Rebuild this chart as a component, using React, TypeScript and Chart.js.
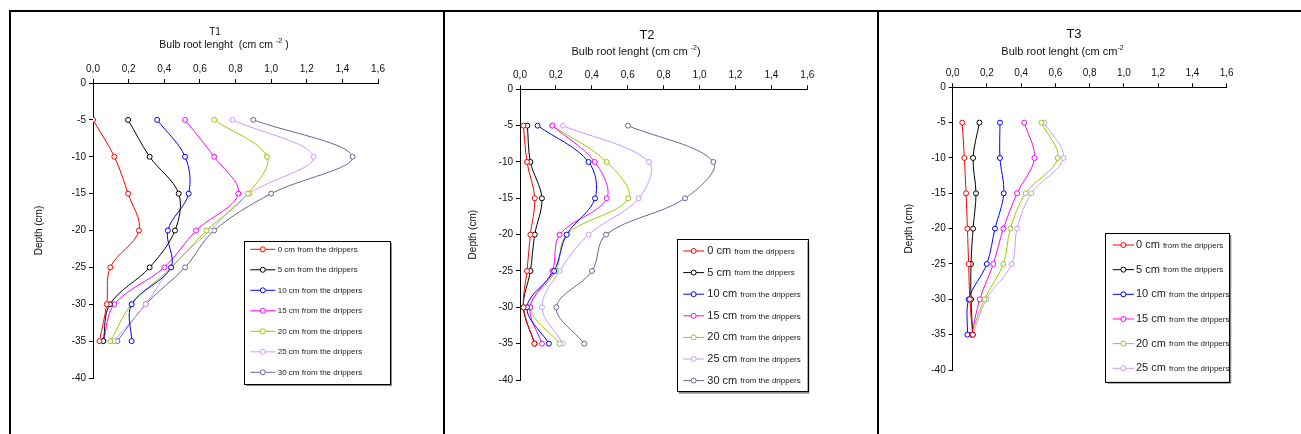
import React, { useEffect, useRef } from 'react';
import { Chart, registerables } from 'chart.js';

Chart.register(...registerables);

const FONT = '"Liberation Sans", Arial, Helvetica, sans-serif';

// ---- data ----
const depths = [-5, -10, -15, -20, -25, -30, -35];
const distances = ['0 cm', '5 cm', '10 cm', '15 cm', '20 cm', '25 cm', '30 cm'];
const legendSuffix = 'from the drippers';
const seriesColors = ['#FF0000', '#000000', '#0000FF', '#FF00FF', '#99CC00', '#CC99FF', '#666699'];
const xTickValues = [0, 0.2, 0.4, 0.6, 0.8, 1.0, 1.2, 1.4, 1.6];
const yTickValues = [0, -5, -10, -15, -20, -25, -30, -35, -40];

// T1
const t1_0 = [0.0, 0.12, 0.197, 0.258, 0.097, 0.077, 0.036];
const t1_5 = [0.197, 0.318, 0.481, 0.46, 0.318, 0.095, 0.058];
const t1_10 = [0.36, 0.517, 0.537, 0.42, 0.438, 0.217, 0.217];
const t1_15 = [0.517, 0.68, 0.816, 0.579, 0.4, 0.12, 0.058];
const t1_20 = [0.68, 0.977, 0.87, 0.637, 0.44, 0.217, 0.097];
const t1_25 = [0.783, 1.238, 0.878, 0.657, 0.44, 0.296, 0.116];
const t1_30 = [0.9, 1.457, 1.0, 0.68, 0.517, 0.296, 0.137];

// T2
const t2_0 = [0.019, 0.039, 0.082, 0.058, 0.039, 0.02, 0.08];
const t2_5 = [0.041, 0.058, 0.122, 0.082, 0.058, 0.019, 0.082];
const t2_10 = [0.098, 0.382, 0.418, 0.26, 0.19, 0.039, 0.161];
const t2_15 = [0.18, 0.416, 0.483, 0.221, 0.18, 0.056, 0.122];
const t2_20 = [0.18, 0.483, 0.603, 0.26, 0.2, 0.058, 0.221];
const t2_25 = [0.239, 0.718, 0.661, 0.382, 0.221, 0.122, 0.239];
const t2_30 = [0.601, 1.077, 0.919, 0.479, 0.401, 0.202, 0.358];

// T3
const t3_0 = [0.056, 0.068, 0.078, 0.086, 0.093, 0.1, 0.117];
const t3_5 = [0.156, 0.119, 0.136, 0.119, 0.107, 0.107, 0.117];
const t3_10 = [0.276, 0.276, 0.298, 0.247, 0.199, 0.093, 0.086];
const t3_15 = [0.418, 0.477, 0.376, 0.296, 0.237, 0.158, 0.111];
const t3_20 = [0.518, 0.613, 0.426, 0.337, 0.296, 0.185, 0.107];
const t3_25 = [0.535, 0.646, 0.459, 0.376, 0.345, 0.197, 0.117];

const panels = [
  {
    key: 'T1',
    series: [t1_0, t1_5, t1_10, t1_15, t1_20, t1_25, t1_30],
    canvas: { left: 11, top: 12, w: 432, h: 422 },
    area: { l: 82, t: 71, r: 367, b: 366 },
    yTitleX: 28,
    title: { text: 'T1', size: 10, x: 204, y: 20.3 },
    sub: { main: 'Bulb root lenght  (cm cm ', sup: '-2', end: ' )', size: 10.5, x: 213, y: 33.3 },
    legend: { x: 233, y: 229, w: 146, h: 143, first: 8.3, step: 20.5, l0: 6.3, l1: 31.3, tx: 33.7, big: 8, small: 8 },
  },
  {
    key: 'T2',
    series: [t2_0, t2_5, t2_10, t2_15, t2_20, t2_25, t2_30],
    canvas: { left: 445, top: 12, w: 432, h: 422 },
    area: { l: 75, t: 77.3, r: 362.3, b: 368 },
    yTitleX: 28.3,
    title: { text: 'T2', size: 13, x: 202, y: 23 },
    sub: { main: 'Bulb root lenght (cm cm ', sup: '-2', end: ')', size: 11, x: 191, y: 39.7 },
    legend: { x: 231.7, y: 227.3, w: 130.6, h: 152.4, first: 11.7, step: 21.6, l0: 6.6, l1: 27.3, tx: 30.6, big: 11, small: 8 },
  },
  {
    key: 'T3',
    series: [t3_0, t3_5, t3_10, t3_15, t3_20, t3_25],
    canvas: { left: 879, top: 12, w: 422, h: 422 },
    area: { l: 73.7, t: 75.3, r: 347.7, b: 358 },
    yTitleX: 30.3,
    title: { text: 'T3', size: 13, x: 195, y: 22.3 },
    sub: { main: 'Bulb root lenght (cm cm', sup: '-2', end: '', size: 11, x: 183.5, y: 39.7 },
    legend: { x: 226.3, y: 221, w: 124, h: 148.7, first: 12, step: 24.66, l0: 7.4, l1: 28.7, tx: 30.7, big: 11, small: 8 },
  },
];

const decorPlugin = {
  id: 'panelDecor',
  afterDraw(chart: any, _args: any, opts: any) {
    const ctx = chart.ctx as CanvasRenderingContext2D;
    ctx.save();
    ctx.fillStyle = '#111';
    ctx.textBaseline = 'middle';
    // chart title
    ctx.textAlign = 'center';
    ctx.font = `${opts.title.size}px ${FONT}`;
    ctx.fillText(opts.title.text, opts.title.x, opts.title.y);
    // axis title with superscript
    const s = opts.sub;
    const mainFont = `${s.size}px ${FONT}`;
    const supFont = `${Math.round(s.size * 0.65)}px ${FONT}`;
    ctx.font = mainFont;
    const w1 = ctx.measureText(s.main).width;
    const w3 = ctx.measureText(s.end).width;
    ctx.font = supFont;
    const w2 = ctx.measureText(s.sup).width;
    let x = s.x - (w1 + w2 + w3) / 2;
    ctx.textAlign = 'left';
    ctx.font = mainFont;
    ctx.fillText(s.main, x, s.y);
    x += w1;
    ctx.font = supFont;
    ctx.fillText(s.sup, x, s.y - 4);
    x += w2;
    ctx.font = mainFont;
    if (s.end) ctx.fillText(s.end, x, s.y);

    // legend
    const L = opts.legend;
    ctx.fillStyle = '#8a8a8a';
    ctx.fillRect(L.x + 2, L.y + 2, L.w, L.h);
    ctx.fillStyle = '#ffffff';
    ctx.fillRect(L.x, L.y, L.w, L.h);
    ctx.strokeStyle = '#000';
    ctx.lineWidth = 1;
    ctx.strokeRect(Math.round(L.x) + 0.5, Math.round(L.y) + 0.5, Math.round(L.w), Math.round(L.h));
    chart.data.datasets.forEach((ds: any, i: number) => {
      const y = L.y + L.first + i * L.step;
      ctx.strokeStyle = ds.borderColor;
      ctx.lineWidth = 1;
      ctx.beginPath();
      ctx.moveTo(L.x + L.l0, y);
      ctx.lineTo(L.x + L.l1, y);
      ctx.stroke();
      ctx.beginPath();
      ctx.arc(L.x + (L.l0 + L.l1) / 2, y, 2.5, 0, Math.PI * 2);
      ctx.fillStyle = '#fff';
      ctx.fill();
      ctx.stroke();
      ctx.fillStyle = '#222';
      ctx.textAlign = 'left';
      ctx.font = `${L.big}px ${FONT}`;
      const dist = distances[i] + ' ';
      ctx.fillText(dist, L.x + L.tx, y);
      const dw = ctx.measureText(dist).width;
      ctx.font = `${L.small}px ${FONT}`;
      ctx.fillText(legendSuffix, L.x + L.tx + dw, y + (L.big > L.small ? 0.5 : 0));
    });
    ctx.restore();
  },
};

function Panel({ p }: { p: any }) {
  const ref = useRef<HTMLCanvasElement | null>(null);
  useEffect(() => {
    if (!ref.current) return;
    const padLeft = p.yTitleX - 6;
    const chart = new Chart(ref.current, {
      type: 'line',
      data: {
        datasets: p.series.map((vals: number[], i: number) => ({
          label: `${distances[i]} ${legendSuffix}`,
          data: vals.map((v, j) => ({ x: v, y: depths[j] })),
          borderColor: seriesColors[i],
          backgroundColor: '#ffffff',
          borderWidth: 1,
          pointRadius: 2.5,
          pointBorderWidth: 1,
          pointBackgroundColor: '#ffffff',
          pointBorderColor: seriesColors[i],
          tension: 0.35,
          fill: false,
        })),
      },
      options: {
        animation: false,
        responsive: false,
        events: [],
        layout: {
          padding: { left: padLeft, top: 0, right: p.canvas.w - p.area.r, bottom: p.canvas.h - p.area.b },
        },
        plugins: {
          legend: { display: false },
          title: { display: false },
          tooltip: { enabled: false },
          panelDecor: { title: p.title, sub: p.sub, legend: p.legend },
        } as any,
        scales: {
          x: {
            type: 'linear',
            position: 'top',
            min: 0,
            max: 1.6,
            afterBuildTicks: (scale: any) => {
              scale.ticks = xTickValues.map((v) => ({ value: v }));
            },
            afterFit: (scale: any) => {
              scale.height = p.area.t;
            },
            ticks: {
              padding: 4,
              color: '#111',
              font: { family: FONT, size: 10 },
              maxRotation: 0,
              autoSkip: false,
              callback: (v: any) => (Math.round(Number(v) * 10) / 10).toFixed(1).replace('.', ','),
            },
            grid: { display: true, drawOnChartArea: false, drawTicks: true, tickLength: 4, color: '#000' },
            border: { display: true, color: '#000', width: 1 },
          },
          y: {
            type: 'linear',
            position: 'left',
            min: -40,
            max: 0,
            afterBuildTicks: (scale: any) => {
              scale.ticks = yTickValues.map((v) => ({ value: v }));
            },
            afterFit: (scale: any) => {
              scale.width = p.area.l - padLeft;
            },
            ticks: {
              padding: 3,
              color: '#111',
              font: { family: FONT, size: 10 },
              autoSkip: false,
              callback: (v: any) => String(v),
            },
            title: {
              display: true,
              text: 'Depth (cm)',
              color: '#111',
              font: { family: FONT, size: 10 },
              padding: { top: 0, bottom: 0 },
            },
            grid: { display: true, drawOnChartArea: false, drawTicks: true, tickLength: 4, color: '#000' },
            border: { display: true, color: '#000', width: 1 },
          },
        },
      },
      plugins: [decorPlugin as any],
    });
    return () => chart.destroy();
  }, [p]);
  return (
    <canvas
      ref={ref}
      width={p.canvas.w}
      height={p.canvas.h}
      style={{ position: 'absolute', left: p.canvas.left, top: p.canvas.top, width: p.canvas.w, height: p.canvas.h }}
    />
  );
}

export default function App() {
  const line = (left: number, top: number, width: number, height: number) => (
    <div style={{ position: 'absolute', left, top, width, height, background: '#000' }} />
  );
  return (
    <div style={{ position: 'absolute', left: 0, top: 0, width: 1301, height: 434, background: '#fff', overflow: 'hidden' }}>
      {panels.map((p) => (
        <Panel key={p.key} p={p} />
      ))}
      {line(9, 10, 1292, 2)}
      {line(9, 10, 2, 424)}
      {line(443, 10, 2, 424)}
      {line(877, 10, 2, 424)}
    </div>
  );
}
